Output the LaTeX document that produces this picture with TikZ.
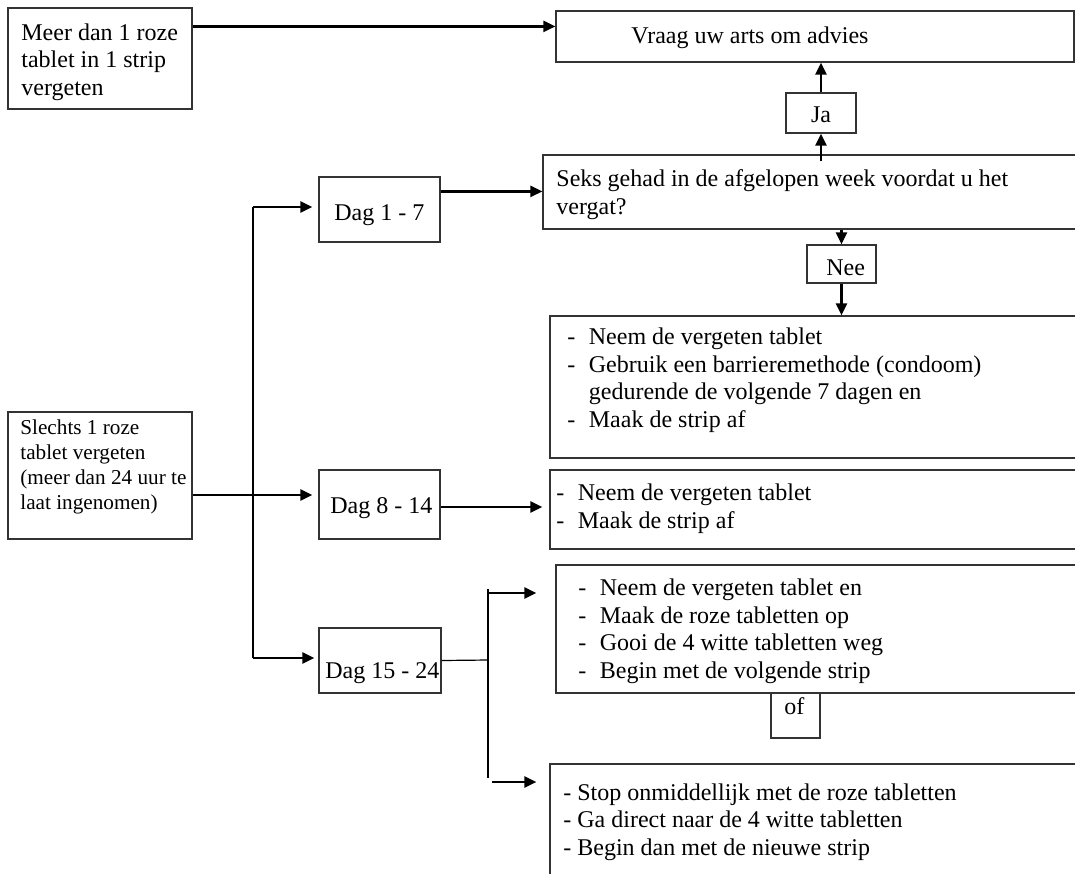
\documentclass[tikz,border=0pt]{standalone}
\usepackage{fontspec}
\setmainfont{Liberation Serif}
\usetikzlibrary{fit,arrows.meta}

\tikzset{
  box/.style={draw=black!80, line width=0.6pt, inner sep=0pt},
  txt/.style={anchor=base west, inner sep=0pt, align=left},
  arr/.style={line width=1.2pt, -{Triangle[length=6pt,width=5.5pt]}},
  trunk/.style={line width=0.6pt},
}
\newcommand{\itm}{\makebox[10.75pt][l]{-}}
\newcommand{\itmgap}{\makebox[10.75pt]{}}

\begin{document}
\begin{tikzpicture}[x=0.5pt, y=-0.5pt, font=\fontsize{12}{13.75}\selectfont]
\useasboundingbox (0,0) rectangle (1075,873);
\clip (0,0) rectangle (1075,873);

% boxes
\node[box, fit={(8,8) (192,109)}] (meer) {};
\node[box, fit={(556,11) (1074,62)}] (vraag) {};
\node[box, fit={(786,93) (856,133)}] (ja) {};
\node[box, fit={(543,155) (1085,229)}] (seks) {};
\node[box, fit={(319,177) (440,242)}] (dag1) {};
\node[box, fit={(807,245) (876,283)}] (nee) {};
\node[box, fit={(550,316) (1085,458)}] (stap1) {};
\node[box, fit={(8,412) (192,539)}] (slechts) {};
\node[box, fit={(319,470) (440,539)}] (dag8) {};
\node[box, fit={(550,470) (1085,549)}] (stap2) {};
\node[box, fit={(319,628) (441,693)}] (dag15) {};
\node[box, fit={(556,565) (1085,693)}] (stap3) {};
\node[box, fit={(771,693) (820,738)}] (of) {};
\node[box, fit={(550,764) (1085,890)}] (stap4) {};

% texts (multi-line: placed at the baseline of the last line)
\node[txt] (meer-t) at (21,95) {Meer dan 1 roze\\tablet in 1 strip\\vergeten};
\node[txt] (vraag-t) at (631,43) {Vraag uw arts om advies};
\node[anchor=base, inner sep=0pt] (ja-t) at (821,122) {Ja};
\node[txt] (seks-t) at (556,214) {Seks gehad in de afgelopen week voordat u het\\vergat?};
\node[txt] (dag1-t) at (334,220) {Dag 1 - 7};
\node[txt] (nee-t) at (826,275) {Nee};
\node[txt] (stap1-t) at (567,427) {\itm Neem de vergeten tablet\\
  \itm Gebruik een barrieremethode (condoom)\\
  \itmgap gedurende de volgende 7 dagen en\\
  \itm Maak de strip af};
\node[txt, font=\fontsize{10.6}{12.35}\selectfont] (slechts-t) at (20,509)
  {Slechts 1 roze\\tablet vergeten\\(meer dan 24 uur te\\laat ingenomen)};
\node[txt] (dag8-t) at (330,513) {Dag 8 - 14};
\node[txt] (stap2-t) at (556,528) {\itm Neem de vergeten tablet\\\itm Maak de strip af};
\node[txt] (dag15-t) at (325,678) {Dag 15 - 24};
\node[txt] (stap3-t) at (578,678) {\itm Neem de vergeten tablet en\\
  \itm Maak de roze tabletten op\\
  \itm Gooi de 4 witte tabletten weg\\
  \itm Begin met de volgende strip};
\node[txt] (of-t) at (784,714) {of};
\node[txt] (stap4-t) at (563,855) {- Stop onmiddellijk met de roze tabletten\\
  - Ga direct naar de 4 witte tabletten\\
  - Begin dan met de nieuwe strip};

% connectors
\coordinate (meerOut) at ([yshift=-9.5pt]meer.north east);
\draw[arr] (meerOut) -- (meerOut -| vraag.west);
\draw[arr] (ja.north) -- (ja.north |- vraag.south);
\coordinate (seksTop) at ([yshift=-3.5pt]seks.north);
\draw[arr] (seksTop -| ja.south) -- (ja.south);
\draw[arr] (nee.north |- seks.south) -- (nee.north);
\draw[arr] (nee.south) -- (nee.south |- stap1.north);
\coordinate (dag1Out) at ([yshift=-7.5pt]dag1.north east);
\draw[arr] (dag1Out) -- (dag1Out -| seks.west);

\coordinate (splitT) at (253,207);
\coordinate (splitB) at (253,658);
\draw[trunk] (splitT) -- (splitB);
\draw[arr, shorten >=3pt] (splitT) -- (splitT -| dag1.west);
\draw[arr, shorten >=2pt] (splitB) -- (splitB -| dag15.west);
\coordinate (slOut) at ([yshift=-9.75pt]slechts.east);
\draw[arr, shorten >=3pt] (slOut) -- (slOut -| dag8.west);
\coordinate (d8Out) at ([yshift=-1.25pt]dag8.east);
\draw[arr, shorten >=3.5pt] (d8Out) -- (d8Out -| stap2.west);

\coordinate (forkT) at (488,589);
\coordinate (forkM) at (488,660);
\coordinate (forkB) at (488,778);
\draw[trunk] (dag15.east) -- (forkM);
\draw[trunk] (forkT) -- (forkB);
\coordinate (upOut) at (488,593);
\coordinate (lowOut) at (492,782);
\draw[arr, shorten >=9.5pt] (upOut) -- (upOut -| stap3.west);
\draw[arr, shorten >=6.5pt] (lowOut) -- (lowOut -| stap4.west);
\end{tikzpicture}
\end{document}
